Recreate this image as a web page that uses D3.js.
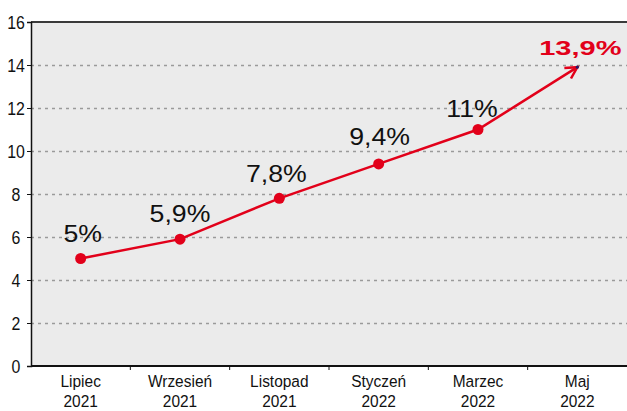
<!DOCTYPE html>
<html>
<head>
<meta charset="utf-8">
<script src="https://cdn.jsdelivr.net/npm/d3@7"></script>
<style>
  body { margin: 0; background: #fff; }
  .tick-label { font-family: "Liberation Sans", Arial, sans-serif; font-size: 18.5px; fill: #111; }
  .xlab { font-size: 17px; }
  .val { font-family: "Liberation Sans", Arial, sans-serif; font-size: 23px; fill: #111; }
</style>
</head>
<body>
<svg id="chart" width="627" height="411"></svg>
<script>
const months = ['Lipiec', 'Wrzesień', 'Listopad', 'Styczeń', 'Marzec', 'Maj'];
const years = ['2021', '2021', '2021', '2022', '2022', '2022'];
const values = [5, 5.9, 7.8, 9.4, 11, 13.9];
const valueLabels = ['5%', '5,9%', '7,8%', '9,4%', '11%', '13,9%'];
const yTicks = [0, 2, 4, 6, 8, 10, 12, 14, 16];

const red = '#e2001a';
const margin = { top: 22, right: 0, bottom: 45, left: 31 };
const width = 627, height = 411;
const narrow = 0.86; // horizontal squeeze to mimic a condensed face

const svg = d3.select('#chart');

const x = d3.scaleBand()
    .domain(d3.range(months.length))
    .range([margin.left, width - margin.right]);

const y = d3.scaleLinear()
    .domain([0, 16])
    .range([height - margin.bottom, margin.top]);

// plot background
svg.append('rect')
    .attr('x', margin.left)
    .attr('y', margin.top)
    .attr('width', width - margin.left - margin.right)
    .attr('height', y(0) - margin.top)
    .attr('fill', '#ebebeb');

// dashed gridlines
svg.append('g')
    .selectAll('line')
    .data(yTicks.filter(d => d > 0 && d < 16))
    .join('line')
    .attr('x1', margin.left)
    .attr('x2', width - margin.right)
    .attr('y1', d => Math.round(y(d)) + 0.5)
    .attr('y2', d => Math.round(y(d)) + 0.5)
    .attr('stroke', '#9a9a9a')
    .attr('stroke-width', 1.3)
    .attr('stroke-dasharray', '3,4');

// top border
svg.append('line')
    .attr('x1', margin.left).attr('x2', width)
    .attr('y1', y(16)).attr('y2', y(16))
    .attr('stroke', '#3a3a3a')
    .attr('stroke-width', 2);

// y axis
const yAxis = svg.append('g')
    .attr('transform', `translate(${margin.left},0)`)
    .call(d3.axisLeft(y).tickValues(yTicks).tickSize(4).tickPadding(4));
yAxis.select('.domain').attr('stroke', '#111').attr('stroke-width', 1.5);
yAxis.selectAll('.tick line').attr('stroke', '#111');
yAxis.selectAll('.tick text').remove();
yAxis.selectAll('.tick')
    .append('text')
    .attr('class', 'tick-label')
    .attr('text-anchor', 'middle')
    .attr('transform', `translate(-15,0) scale(${narrow},1)`)
    .attr('dy', '0.36em')
    .text(d => d);

// x axis: ticks at band boundaries
const xAxis = svg.append('g');
xAxis.append('line')
    .attr('x1', margin.left).attr('x2', width)
    .attr('y1', y(0)).attr('y2', y(0))
    .attr('stroke', '#111').attr('stroke-width', 2);
xAxis.selectAll('.xtick')
    .data(d3.range(1, months.length))
    .join('line')
    .attr('class', 'xtick')
    .attr('x1', d => x(d)).attr('x2', d => x(d))
    .attr('y1', y(0)).attr('y2', y(0) + 4)
    .attr('stroke', '#111');
const xl = xAxis.selectAll('.xlab')
    .data(months)
    .join('text')
    .attr('class', 'tick-label xlab')
    .attr('text-anchor', 'middle')
    .attr('transform', (d, i) => `translate(${x(i) + x.bandwidth() / 2},0) scale(0.91,1)`);
xl.append('tspan').attr('x', 0).attr('y', 387).text(d => d);
xl.append('tspan').attr('x', 0).attr('y', 407).text((d, i) => years[i]);

// line
const cx = i => x(i) + x.bandwidth() / 2;
const line = d3.line().x((d, i) => cx(i)).y(d => y(d));
svg.append('path')
    .datum(values)
    .attr('d', line)
    .attr('fill', 'none')
    .attr('stroke', red)
    .attr('stroke-width', 2.5);

// arrow head at the last point
const n = values.length - 1;
const ang = Math.atan2(y(values[n]) - y(values[n - 1]), cx(n) - cx(n - 1));
const tipX = cx(n), tipY = y(values[n]);
const headLen = 13, spread = 0.5;
svg.append('path')
    .attr('d', `M${tipX - headLen * Math.cos(ang - spread)},${tipY - headLen * Math.sin(ang - spread)}L${tipX},${tipY}L${tipX - headLen * Math.cos(ang + spread)},${tipY - headLen * Math.sin(ang + spread)}`)
    .attr('fill', 'none')
    .attr('stroke', red)
    .attr('stroke-width', 2.5)
    .attr('stroke-linejoin', 'miter');
svg.append('circle')
    .attr('cx', tipX).attr('cy', tipY).attr('r', 1.6)
    .attr('fill', '#2a1a6a');

// dots
svg.selectAll('.dot')
    .data(values.slice(0, n))
    .join('circle')
    .attr('class', 'dot')
    .attr('cx', (d, i) => cx(i))
    .attr('cy', d => y(d))
    .attr('r', 5.5)
    .attr('fill', red);

// value labels (the face is wider than Arial, so stretch it)
const labelDx = [2, 0, -3, 1, -6, 3];
const labelDy = [-17, -17, -16, -19, -13, -12];
const labels = svg.selectAll('.val')
    .data(values)
    .join('text')
    .attr('class', 'val')
    .attr('text-anchor', 'middle')
    .attr('transform', (d, i) => `translate(${cx(i) + labelDx[i]},${y(d) + labelDy[i]}) scale(1.16,1)`)
    .text((d, i) => valueLabels[i]);
labels.filter((d, i) => i === n)
    .attr('transform', d => `translate(${cx(n) + 3},${y(d) - 12}) scale(1.45,1)`)
    .style('fill', red)
    .style('font-weight', 'bold')
    .style('font-size', '20px');
</script>
</body>
</html>
